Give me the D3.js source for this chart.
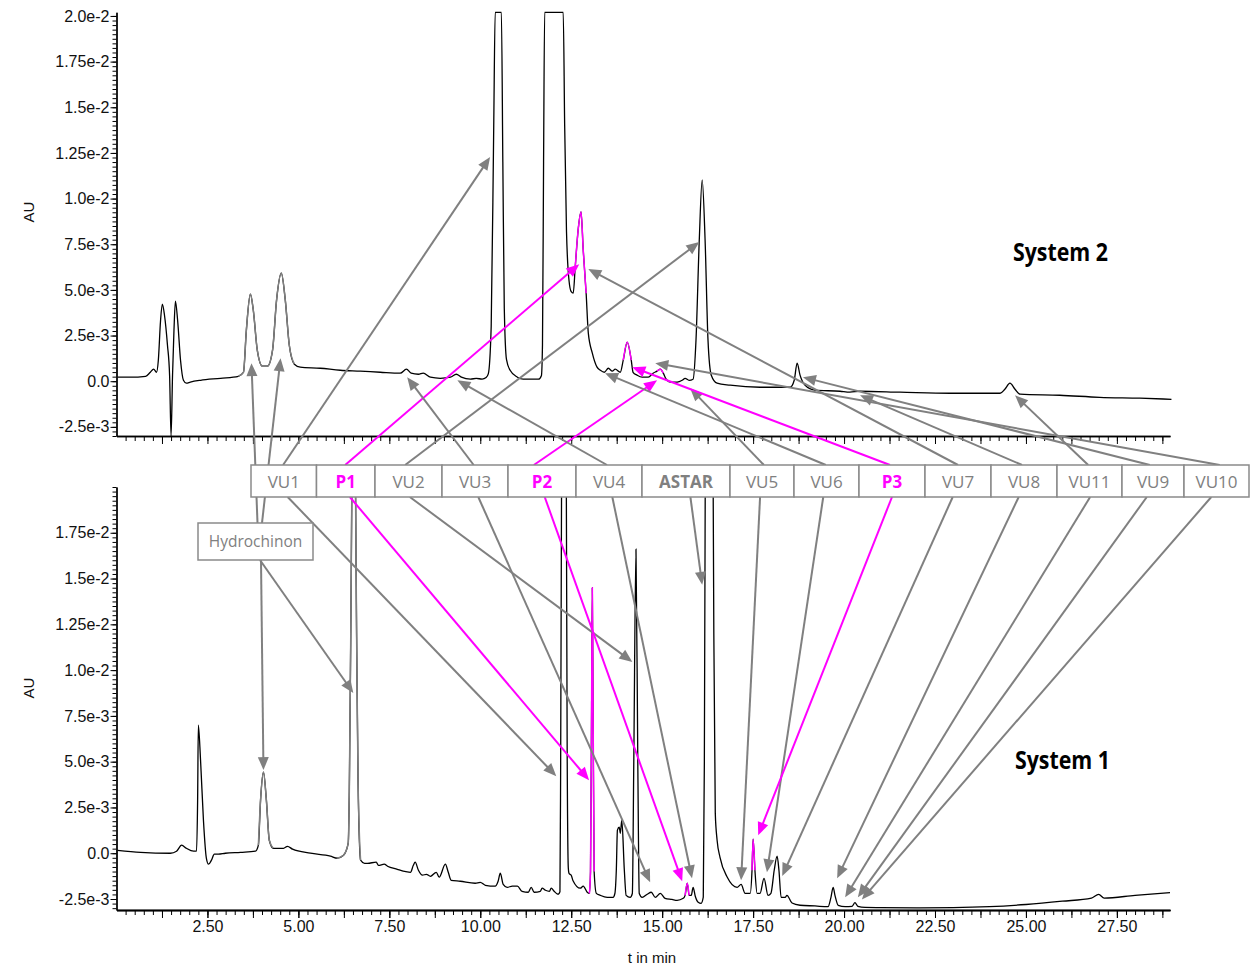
<!DOCTYPE html>
<html><head><meta charset="utf-8">
<script src="https://cdn.jsdelivr.net/npm/d3@7"></script>
<style>
html,body{margin:0;padding:0;background:#fff;}
svg{display:block;font-family:"Liberation Sans",Arial,sans-serif;}
</style></head><body>
<svg id="chart" width="1259" height="969"></svg>
<script>
// ================= DATA =================
const timeLabelValues = [2.5, 5, 7.5, 10, 12.5, 15, 17.5, 20, 22.5, 25, 27.5];
const timeLabelTexts = ["2.50","5.00","7.50","10.00","12.50","15.00","17.50","20.00","22.50","25.00","27.50"];
// absorbance ticks in units of 1e-3 AU
const auTickValues = [-2.5, 0, 2.5, 5, 7.5, 10, 12.5, 15, 17.5, 20];
const auTickTexts = ["-2.5e-3","0.0","2.5e-3","5.0e-3","7.5e-3","1.0e-2","1.25e-2","1.5e-2","1.75e-2","2.0e-2"];

// System 2 chromatogram: [time (min), absorbance (1e-3 AU)]
const system2Trace = [[0.03,0.22],[0.38,0.22],[0.80,0.27],[0.93,0.49],[1.02,0.66],[1.10,0.49],[1.15,1.15],[1.21,3.3],[1.26,4.22],[1.32,3.6],[1.40,2.0],[1.46,0.3],[1.50,-3.0],[1.54,0.3],[1.58,2.8],[1.62,4.39],[1.68,3.34],[1.76,1.15],[1.84,0.05],[1.92,-0.11],[2.03,-0.05],[2.31,0.05],[2.86,0.16],[3.35,0.27],[3.49,0.49],[3.57,2.8],[3.68,4.77],[3.76,3.9],[3.87,1.7],[4.01,0.82],[4.15,0.82],[4.29,1.7],[4.40,4.44],[4.53,5.92],[4.64,4.44],[4.75,1.97],[4.89,0.93],[5.05,0.77],[5.60,0.71],[6.15,0.60],[6.70,0.55],[7.25,0.49],[7.80,0.44],[7.97,0.66],[8.10,0.44],[8.30,0.38],[8.43,0.44],[8.63,0.22],[8.90,0.16],[9.18,0.22],[9.34,0.38],[9.48,0.22],[9.73,0.11],[9.89,0.16],[10.05,0.11],[10.16,0.2],[10.22,0.4],[10.30,3.0],[10.37,14.0],[10.41,20.2],[10.58,20.2],[10.62,12.0],[10.66,4.0],[10.72,1.2],[10.82,0.6],[11.02,0.22],[11.18,0.11],[11.60,0.11],[11.68,0.3],[11.71,2.0],[11.74,12.0],[11.77,20.2],[12.28,20.2],[12.32,14.0],[12.37,8.2],[12.44,5.5],[12.50,4.9],[12.555,4.82],[12.61,6.25],[12.69,8.28],[12.77,9.27],[12.83,7.18],[12.91,4.82],[12.97,2.63],[13.08,1.54],[13.21,0.77],[13.30,0.60],[13.41,0.49],[13.52,0.71],[13.63,0.55],[13.71,0.66],[13.85,0.49],[13.93,1.15],[14.04,2.14],[14.15,1.15],[14.20,0.49],[14.31,0.33],[14.45,0.22],[14.62,0.22],[14.75,0.44],[14.86,0.55],[14.95,0.66],[15.03,0.44],[15.11,0.11],[15.22,-0.05],[15.41,-0.05],[15.55,0.05],[15.63,0.16],[15.74,0.05],[15.85,0.11],[15.93,2.25],[16.02,7.73],[16.10,11.02],[16.18,7.73],[16.26,2.25],[16.35,0.33],[16.51,-0.11],[16.87,-0.22],[17.69,-0.33],[18.52,-0.33],[18.63,0.05],[18.71,0.99],[18.79,0.33],[18.93,-0.22],[19.20,-0.49],[19.89,-0.55],[20.16,-0.60],[20.44,-0.55],[21.54,-0.60],[22.91,-0.66],[24.29,-0.66],[24.42,-0.44],[24.56,-0.11],[24.70,-0.44],[24.84,-0.71],[25.93,-0.77],[27.03,-0.88],[28.13,-0.93],[29.0,-0.99]];
const system2GrayRanges = [[3.35, 4.95]];
const system2MagentaRanges = [[12.57, 12.92], [13.90, 14.18], [14.86, 15.05]];

// System 1 chromatogram: [time (min), absorbance (1e-3 AU)]
const system1Trace = [[0.03,0.16],[0.66,0.05],[1.48,0.0],[1.65,0.11],[1.79,0.44],[1.92,0.27],[2.12,0.11],[2.20,0.11],[2.23,2.9],[2.25,7.0],[2.31,5.1],[2.39,1.8],[2.47,-0.27],[2.53,-0.6],[2.61,-0.38],[2.69,-0.05],[2.80,-0.05],[2.99,0.0],[3.41,0.05],[3.82,0.11],[3.90,0.44],[3.96,2.9],[4.04,4.43],[4.12,2.9],[4.20,0.71],[4.31,0.27],[4.59,0.27],[4.70,0.38],[4.84,0.22],[5.33,0.0],[5.88,-0.16],[6.07,-0.27],[6.24,-0.11],[6.37,0.55],[6.40,3.4],[6.44,12.0],[6.52,30.0],[6.60,12.0],[6.64,4.0],[6.71,-0.38],[6.82,-0.55],[6.90,-0.55],[7.14,-0.49],[7.20,-0.66],[7.36,-0.60],[7.45,-0.71],[7.72,-0.88],[7.88,-0.98],[8.08,-1.04],[8.16,-0.66],[8.21,-0.49],[8.30,-0.93],[8.41,-1.20],[8.52,-1.15],[8.63,-1.26],[8.79,-1.04],[8.87,-1.31],[9.04,-0.60],[9.12,-1.04],[9.20,-1.48],[9.45,-1.53],[9.86,-1.64],[10.0,-1.59],[10.14,-1.75],[10.41,-1.80],[10.49,-1.53],[10.55,-1.09],[10.63,-1.70],[10.74,-1.86],[10.88,-1.80],[11.02,-1.80],[11.15,-2.08],[11.32,-2.13],[11.40,-1.86],[11.48,-2.13],[11.65,-2.08],[11.70,-1.91],[11.79,-2.02],[11.90,-2.08],[11.95,-1.91],[12.03,-2.08],[12.14,-2.24],[12.19,-2.1],[12.21,5.0],[12.25,30.0],[12.30,45.0],[12.35,30.0],[12.39,5.0],[12.42,-0.8],[12.44,-1.1],[12.50,-1.2],[12.55,-1.5],[12.75,-1.91],[12.83,-1.80],[12.94,-2.13],[13.00,-2.19],[13.03,-1.0],[13.06,8.0],[13.08,14.5],[13.10,8.0],[13.13,-1.0],[13.19,-2.19],[13.30,-2.30],[13.49,-2.41],[13.65,-2.41],[13.70,-2.2],[13.74,-0.9],[13.77,1.26],[13.82,1.42],[13.85,1.09],[13.89,1.8],[13.96,-0.93],[14.01,-2.30],[14.12,-2.41],[14.18,-2.2],[14.22,5.0],[14.28,16.6],[14.33,5.0],[14.37,-2.2],[14.45,-2.41],[14.59,-2.24],[14.70,-2.13],[14.81,-2.41],[14.95,-2.19],[15.08,-2.46],[15.27,-2.52],[15.41,-2.57],[15.58,-2.46],[15.63,-2.30],[15.69,-1.64],[15.74,-2.30],[15.80,-2.30],[15.85,-1.86],[15.91,-2.35],[15.99,-2.68],[16.07,-2.74],[16.13,-2.4],[16.16,5.0],[16.20,30.0],[16.30,50.0],[16.38,30.0],[16.42,12.0],[16.46,2.19],[16.51,0.71],[16.59,-0.22],[16.79,-1.31],[17.06,-1.86],[17.17,-1.70],[17.28,-2.19],[17.42,-2.19],[17.47,-0.93],[17.50,0.77],[17.55,-0.93],[17.61,-2.19],[17.69,-2.19],[17.80,-1.37],[17.91,-2.30],[17.99,-2.19],[18.08,-0.93],[18.16,-0.16],[18.21,-0.93],[18.27,-2.41],[18.38,-2.41],[18.43,-2.30],[18.57,-2.72],[18.79,-2.84],[19.20,-2.88],[19.56,-2.92],[19.64,-2.41],[19.70,-1.86],[19.75,-2.30],[19.84,-2.85],[20.03,-2.92],[20.22,-2.90],[20.30,-2.70],[20.38,-2.90],[20.58,-2.96],[21.0,-2.97],[22.0,-2.98],[23.0,-2.97],[24.0,-2.92],[25.0,-2.80],[26.0,-2.62],[26.8,-2.45],[27.0,-2.25],[27.15,-2.45],[28.0,-2.3],[28.96,-2.15]];
const system1GrayRanges = [[3.85, 4.33], [6.05, 6.75]];
const system1MagentaRanges = [[13.00, 13.16], [15.62, 15.76], [17.44, 17.58]];

// Peak labels and the peaks they point to (time, 1e-3 AU); null = no arrow
const peakLabels = ["VU1","P1","VU2","VU3","P2","VU4","ASTAR","VU5","VU6","P3","VU7","VU8","VU11","VU9","VU10"];
const peakKinds  = ["vu","p","vu","vu","p","vu","astar","vu","vu","p","vu","vu","vu","vu","vu"];
const system2TargetTime = [10.27, 12.72, 16.02, 7.99, 14.86, 9.37, null, 15.77, 13.43, 14.18, 12.97, 20.44, 24.70, 18.87, 14.81];
const system2TargetAU   = [12.28, 6.41, 7.62, 0.22, 0.05, 0.05, null, -0.38, 0.44, 0.77, 6.14, -0.77, -0.77, 0.22, 0.99];
const system1TargetTime = [12.09, 12.99, 14.18, 14.67, 15.55, 15.82, 16.10, 17.17, 17.88, 17.64, 18.30, 19.81, 20.03, 20.38, 20.49];
const system1TargetAU   = [4.21, 3.99, 10.45, -1.59, -1.53, -1.37, 14.66, -1.48, -1.04, 0.98, -1.25, -1.37, -2.41, -2.41, -2.52];
const hydroLabel = "Hydrochinon";
const hydroSystem2Time = [3.71, 4.51];
const hydroSystem2AU = [0.99, 1.26];
const hydroSystem1Time = [4.04, 6.51];
const hydroSystem1AU = [4.54, 8.75];

// ================= LAYOUT =================
const GRAY = "#808080", MAG = "#ff00ff";
const boxWidths = [65.5,58.5,67,66,68,66,88,64,65,66,66,66,65,62,65];
const boxLeft = 251, boxTop = 465, boxH = 32;
const startFracTop = [0.49,0.49,0.45,0.48,0.38,0.47,null,0.53,0.49,0.47,0.5,0.47,0.48,0.45,0.55];
const startFracBot = [0.56,0.57,0.52,0.55,0.54,0.55,0.55,0.47,0.45,0.5,0.42,0.42,0.51,0.4,0.42];
const hydroBox = {x:198, y:523, w:115, h:37};

const svg = d3.select("#chart");
const x = d3.scaleLinear().domain([0, 28.96]).range([116.5, 1170]);
const yTop = d3.scaleLinear().domain([-3.0, 20.2]).range([436, 12.3]);
const yBot = d3.scaleLinear().domain([-3.1, 20.0]).range([910, 487]);

const defs = svg.append("defs");
defs.append("clipPath").attr("id","clipTop").append("rect").attr("x",117).attr("y",0).attr("width",1056).attr("height",436);
defs.append("clipPath").attr("id","clipBot").append("rect").attr("x",117).attr("y",470).attr("width",1056).attr("height",440);

// ---------- axes ----------
function drawAxes(ys, axisY, withXLabels, yLabelVals) {
  const g = svg.append("g");
  g.append("g").attr("transform","translate(116.5,0)")
    .call(d3.axisLeft(ys).tickValues(d3.range(-3.0, 20.01, 0.25)).tickSize(4).tickFormat("").tickSizeOuter(0));
  const idx = yLabelVals.map(v => auTickValues.indexOf(v));
  g.append("g").attr("transform","translate(116.5,0)")
    .call(d3.axisLeft(ys).tickValues(yLabelVals).tickSize(6).tickPadding(1).tickSizeOuter(0)
      .tickFormat((d,i) => auTickTexts[idx[i]]));
  g.append("g").attr("transform",`translate(0,${axisY})`)
    .call(d3.axisBottom(x).tickValues(d3.range(0.25, 28.96, 0.25)).tickSize(5).tickFormat("").tickSizeOuter(0));
  g.append("g").attr("transform",`translate(0,${axisY})`)
    .call(d3.axisBottom(x).tickValues(d3.range(1.25, 28.96, 1.25)).tickSize(8).tickFormat("").tickSizeOuter(0));
  if (withXLabels) {
    g.append("g").attr("transform",`translate(0,${axisY})`)
      .call(d3.axisBottom(x).tickValues(timeLabelValues).tickSize(8).tickPadding(3).tickSizeOuter(0)
        .tickFormat((d,i) => timeLabelTexts[i]));
  }
  g.selectAll("path.domain").attr("stroke","#000").attr("stroke-width",1.3);
  g.selectAll(".tick line").attr("stroke","#000").attr("stroke-width",1);
  g.selectAll(".tick text").attr("fill","#111").style("font-size","16px").style("font-family","'Liberation Sans',Arial,sans-serif");
}
drawAxes(yTop, 436, false, auTickValues);
drawAxes(yBot, 910, true, auTickValues.slice(0, 9));

svg.append("text").attr("transform","translate(34,212) rotate(-90)").attr("text-anchor","middle")
  .style("font-size","15px").attr("fill","#111").text("AU");
svg.append("text").attr("transform","translate(34,688) rotate(-90)").attr("text-anchor","middle")
  .style("font-size","15px").attr("fill","#111").text("AU");
svg.append("text").attr("x",652).attr("y",963).attr("text-anchor","middle")
  .style("font-size","15px").attr("fill","#111").text("t in min");

// ---------- traces ----------
function drawTrace(data, ys, clipId, grayR, magR) {
  const line = d3.line().x(d => x(d[0])).y(d => ys(d[1])).curve(d3.curveMonotoneX);
  const g = svg.append("g").attr("clip-path", `url(#${clipId})`);
  g.append("path").attr("d", line(data)).attr("fill","none").attr("stroke","#000").attr("stroke-width",1.3);
  grayR.forEach(r => g.append("path").attr("d", line(data.filter(d => d[0] >= r[0] && d[0] <= r[1])))
    .attr("fill","none").attr("stroke",GRAY).attr("stroke-width",1.5));
  magR.forEach(r => g.append("path").attr("d", line(data.filter(d => d[0] >= r[0] && d[0] <= r[1])))
    .attr("fill","none").attr("stroke",MAG).attr("stroke-width",1.5));
}
drawTrace(system2Trace, yTop, "clipTop", system2GrayRanges, system2MagentaRanges);
drawTrace(system1Trace, yBot, "clipBot", system1GrayRanges, system1MagentaRanges);

// ---------- arrows ----------
const arrowLayer = svg.append("g");
function arrow(x1, y1, x2, y2, color) {
  const L = Math.hypot(x2 - x1, y2 - y1), ux = (x2 - x1) / L, uy = (y2 - y1) / L;
  const len = 13, hw = 5.5;
  const bx = x2 - ux * len, by = y2 - uy * len;
  arrowLayer.append("line").attr("x1",x1).attr("y1",y1).attr("x2",bx + ux * 2).attr("y2",by + uy * 2)
    .attr("stroke",color).attr("stroke-width",2);
  arrowLayer.append("path")
    .attr("d", `M${x2},${y2}L${bx - uy * hw},${by + ux * hw}L${bx + uy * hw},${by - ux * hw}Z`)
    .attr("fill",color);
}
const boxX = [];
let acc = boxLeft;
boxWidths.forEach(w => { boxX.push(acc); acc += w; });
peakLabels.forEach((name, i) => {
  const color = peakKinds[i] === "p" ? MAG : GRAY;
  if (system2TargetTime[i] !== null) {
    arrow(boxX[i] + boxWidths[i] * startFracTop[i], boxTop,
          x(system2TargetTime[i]), yTop(system2TargetAU[i]), color);
  }
  if (system1TargetTime[i] !== null) {
    arrow(boxX[i] + boxWidths[i] * startFracBot[i], boxTop + boxH,
          x(system1TargetTime[i]), yBot(system1TargetAU[i]), color);
  }
});
arrow(257.5, hydroBox.y, x(hydroSystem2Time[0]), yTop(hydroSystem2AU[0]), GRAY);
arrow(262, hydroBox.y, x(hydroSystem2Time[1]), yTop(hydroSystem2AU[1]), GRAY);
arrow(261, hydroBox.y + hydroBox.h, x(hydroSystem1Time[0]), yBot(hydroSystem1AU[0]), GRAY);
arrow(260, hydroBox.y + hydroBox.h, x(hydroSystem1Time[1]), yBot(hydroSystem1AU[1]), GRAY);

// ---------- label boxes ----------
const boxG = svg.append("g");
peakLabels.forEach((name, i) => {
  boxG.append("rect").attr("x",boxX[i]).attr("y",boxTop).attr("width",boxWidths[i]).attr("height",boxH)
    .attr("fill","#fff").attr("stroke","#8a8a8a").attr("stroke-width",1.5);
  const k = peakKinds[i];
  boxG.append("text").attr("x",boxX[i] + boxWidths[i] / 2).attr("y",boxTop + 23).attr("text-anchor","middle")
    .style("font-family","'Open Sans',sans-serif").style("font-size","17px")
    .style("font-weight", k === "vu" ? "400" : "700")
    .attr("fill", k === "p" ? MAG : GRAY).text(name);
});
boxG.append("rect").attr("x",hydroBox.x).attr("y",hydroBox.y).attr("width",hydroBox.w).attr("height",hydroBox.h)
  .attr("fill","#fff").attr("stroke","#8a8a8a").attr("stroke-width",1.5);
boxG.append("text").attr("x",hydroBox.x + hydroBox.w / 2).attr("y",hydroBox.y + 24).attr("text-anchor","middle")
  .style("font-family","'Open Sans',sans-serif").style("font-size","15.5px").attr("fill",GRAY).text(hydroLabel);

// ---------- system titles ----------
svg.append("text").attr("x",1013).attr("y",261).attr("textLength",95).attr("lengthAdjust","spacingAndGlyphs")
  .style("font-family","'Open Sans',sans-serif").style("font-size","25px").style("font-weight","700").text("System 2");
svg.append("text").attr("x",1015).attr("y",769).attr("textLength",95).attr("lengthAdjust","spacingAndGlyphs")
  .style("font-family","'Open Sans',sans-serif").style("font-size","25px").style("font-weight","700").text("System 1");
</script>
</body></html>
